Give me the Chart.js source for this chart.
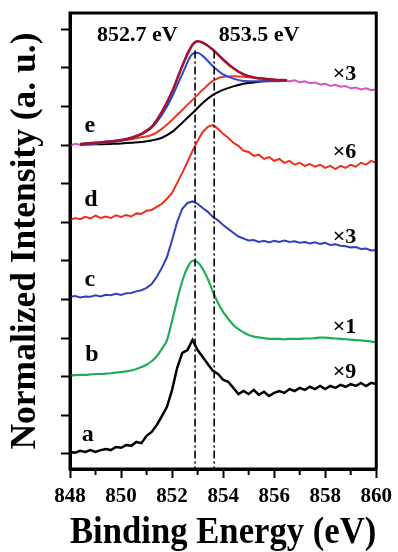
<!DOCTYPE html>
<html>
<head>
<meta charset="utf-8">
<script src="https://cdn.jsdelivr.net/npm/chart.js@4.4.0/dist/chart.umd.min.js"></script>
<style>
html, body { margin: 0; padding: 0; background: #fff; }
</style>
</head>
<body>
<canvas id="chart" width="398" height="552"></canvas>
<script>
// binding energy grid of the measured spectra (eV)
var energy = [848.0, 848.2, 848.4, 848.6, 848.8, 849.0, 849.2, 849.4, 849.6, 849.8,
	850.0, 850.2, 850.4, 850.6, 850.8, 851.0, 851.2, 851.4, 851.6, 851.8,
	852.0, 852.2, 852.4, 852.6, 852.8, 853.0, 853.2, 853.4, 853.6, 853.8,
	854.0, 854.2, 854.4, 854.6, 854.8, 855.0, 855.2, 855.4, 855.6, 855.8,
	856.0, 856.2, 856.4, 856.6, 856.8, 857.0, 857.2, 857.4, 857.6, 857.8,
	858.0, 858.2, 858.4, 858.6, 858.8, 859.0, 859.2, 859.4, 859.6, 859.8,
	860.0];

// stacked, normalized spectra (one y tick = 1 unit)
var spec_a = [0.05, 0.03, 0.08, 0.05, 0.10, 0.05, 0.10, 0.13, 0.10, 0.18,
	0.16, 0.23, 0.21, 0.31, 0.28, 0.47, 0.57, 0.75, 0.98, 1.22,
	1.66, 2.23, 2.62, 2.69, 2.95, 2.69, 2.51, 2.33, 2.15, 2.07,
	1.92, 1.87, 1.71, 1.55, 1.63, 1.55, 1.66, 1.53, 1.61, 1.50,
	1.58, 1.63, 1.58, 1.68, 1.63, 1.71, 1.66, 1.74, 1.68, 1.76,
	1.68, 1.76, 1.71, 1.79, 1.74, 1.81, 1.76, 1.84, 1.76, 1.84,
	1.81];
var spec_b = [2.03, 2.04, 2.05, 2.05, 2.06, 2.07, 2.07, 2.08, 2.09, 2.11,
	2.12, 2.14, 2.16, 2.20, 2.25, 2.31, 2.40, 2.53, 2.72, 2.95,
	3.45, 3.99, 4.48, 4.82, 5.00, 4.97, 4.79, 4.53, 4.20, 3.91,
	3.68, 3.50, 3.34, 3.23, 3.15, 3.08, 3.04, 3.02, 3.00, 2.98,
	2.98, 2.98, 2.97, 2.98, 2.98, 2.98, 2.99, 2.99, 3.00, 3.01,
	3.01, 3.00, 2.99, 2.98, 2.97, 2.96, 2.95, 2.94, 2.93, 2.91,
	2.90];
var spec_c = [4.07, 4.09, 4.05, 4.08, 4.07, 4.11, 4.08, 4.12, 4.11, 4.15,
	4.12, 4.16, 4.17, 4.21, 4.24, 4.30, 4.40, 4.59, 4.82, 5.10,
	5.54, 6.01, 6.35, 6.50, 6.54, 6.48, 6.37, 6.27, 6.14, 6.05,
	5.93, 5.83, 5.73, 5.63, 5.58, 5.53, 5.54, 5.49, 5.52, 5.48,
	5.52, 5.49, 5.53, 5.49, 5.51, 5.47, 5.49, 5.45, 5.48, 5.44,
	5.47, 5.41, 5.43, 5.39, 5.38, 5.35, 5.36, 5.31, 5.32, 5.27,
	5.28];
var spec_d = [6.06, 6.11, 6.08, 6.14, 6.10, 6.17, 6.11, 6.15, 6.11, 6.18,
	6.14, 6.19, 6.15, 6.23, 6.22, 6.30, 6.32, 6.40, 6.48, 6.61,
	6.76, 7.02, 7.28, 7.56, 7.85, 8.11, 8.34, 8.47, 8.52, 8.42,
	8.29, 8.19, 8.06, 7.98, 7.85, 7.82, 7.72, 7.75, 7.64, 7.69,
	7.59, 7.64, 7.54, 7.59, 7.49, 7.54, 7.46, 7.51, 7.44, 7.49,
	7.41, 7.46, 7.38, 7.46, 7.41, 7.49, 7.44, 7.54, 7.49, 7.59,
	7.54];
var spec_e = [7.98, 8.03, 8.01, 8.04, 8.02, 8.07, 8.04, 8.10, 8.08, 8.12,
	8.11, 8.16, 8.17, 8.24, 8.28, 8.39, 8.47, 8.65, 8.86, 9.12,
	9.38, 9.72, 10.05, 10.39, 10.60, 10.70, 10.65, 10.57, 10.47, 10.34,
	10.23, 10.10, 10.00, 9.90, 9.84, 9.78, 9.75, 9.72, 9.73, 9.69,
	9.70, 9.66, 9.69, 9.65, 9.68, 9.62, 9.65, 9.60, 9.62, 9.57,
	9.59, 9.53, 9.56, 9.51, 9.53, 9.47, 9.49, 9.44, 9.47, 9.42,
	9.44];

// peak fit of spectrum e
var fitEnergy = [848.4, 849.0, 849.6, 850.0, 850.4, 850.8, 851.2, 851.6, 852.0, 852.4,
	852.8, 853.0, 853.2, 853.6, 854.0, 854.4, 854.8, 855.2, 855.6, 856.0, 856.5];
var fit_sum = [8.03, 8.06, 8.10, 8.13, 8.19, 8.29, 8.47, 8.86, 9.38, 10.05,
	10.60, 10.69, 10.65, 10.47, 10.21, 9.99, 9.83, 9.75, 9.72, 9.69, 9.68];
var fit_8527 = [8.02, 8.04, 8.08, 8.12, 8.17, 8.28, 8.45, 8.78, 9.25, 9.84,
	10.36, 10.39, 10.31, 10.04, 9.83, 9.72, 9.66, 9.65, 9.65, 9.65, 9.66];
var fit_8535 = [8.02, 8.04, 8.08, 8.11, 8.15, 8.20, 8.26, 8.42, 8.65, 8.91,
	9.17, 9.30, 9.43, 9.66, 9.77, 9.78, 9.77, 9.74, 9.72, 9.69, 9.68];
var fit_bg = [8.01, 8.02, 8.03, 8.04, 8.06, 8.08, 8.12, 8.19, 8.34, 8.58,
	8.83, 8.96, 9.09, 9.30, 9.43, 9.52, 9.59, 9.62, 9.65, 9.66, 9.68];

// dash-dot guide lines
var guideEnergy = [852.9, 853.65];
var guideSpan = [10.45, -0.39];

var yTicks = [0, 1, 2, 3, 4, 5, 6, 7, 8, 9, 10, 11];
var minorTicks = [849, 851, 853, 855, 857, 859];
var curveNames = ['a', 'b', 'c', 'd', 'e'];
var factors = ['\u00d79', '\u00d71', '\u00d73', '\u00d76', '\u00d73'];
var peakNotes = ['852.7 eV', '853.5 eV'];

// where the texts sit, in data units
var nameSpot = [[848.7, 0.49], [848.86, 2.56], [848.78, 4.51], [848.82, 6.58], [848.78, 8.50]];
var factorSpot = [[858.76, 2.12], [858.76, 3.29], [858.76, 5.62], [858.76, 7.82], [858.76, 9.82]];
var noteSpot = [[850.64, 10.83], [855.41, 10.83]];

function pts(xs, ys) {
	return xs.map(function (x, i) { return {x: x, y: ys[i]}; });
}

function line(label, xs, ys, color, width, smooth) {
	return {
		label: label,
		data: pts(xs, ys),
		borderColor: color,
		borderWidth: width,
		pointRadius: 0,
		fill: false,
		tension: 0,
		cubicInterpolationMode: smooth ? 'monotone' : 'default'
	};
}

var SERIF = "'Liberation Serif', 'DejaVu Serif', serif";
Chart.defaults.font.family = SERIF;
Chart.defaults.color = '#000';

var datasets = [];
guideEnergy.forEach(function (e, i) {
	var g = line('guide' + i, [e, e], guideSpan, '#000', 1.6, false);
	g.borderDash = [8, 3, 2, 3];
	datasets.push(g);
});
datasets.push(line('fit sum', fitEnergy, fit_sum, 'rgb(160, 20, 45)', 2.5, true));
datasets.push(line('852.7', fitEnergy, fit_8527, 'rgb(45, 70, 210)', 2, true));
datasets.push(line('853.5', fitEnergy, fit_8535, 'rgb(238, 55, 35)', 2, true));
datasets.push(line('background', fitEnergy, fit_bg, '#000', 2, true));
datasets.push(line('e', energy, spec_e, 'rgb(214, 84, 196)', 2, false));
datasets.push(line('d', energy, spec_d, 'rgb(240, 45, 30)', 2, false));
datasets.push(line('c', energy, spec_c, 'rgb(50, 65, 185)', 2, false));
datasets.push(line('b', energy, spec_b, 'rgb(30, 175, 85)', 2.2, true));
datasets.push(line('a', energy, spec_a, '#000', 2.5, false));

var decorPlugin = {
	id: 'decor',
	afterDraw: function (chart) {
		var ctx = chart.ctx;
		var area = chart.chartArea;
		var xs = chart.scales.x;
		var ys = chart.scales.y;
		ctx.save();
		ctx.strokeStyle = '#000';
		ctx.lineWidth = 3;
		ctx.strokeRect(area.left, area.top, area.right - area.left, area.bottom - area.top);

		/* minor ticks */
		ctx.lineWidth = 2;
		minorTicks.forEach(function (v) {
			var px = xs.getPixelForValue(v);
			ctx.beginPath();
			ctx.moveTo(px, area.bottom);
			ctx.lineTo(px, area.bottom + 6);
			ctx.stroke();
		});

		ctx.fillStyle = '#000';
		ctx.textAlign = 'center';
		ctx.textBaseline = 'middle';

		ctx.font = 'bold 24px ' + SERIF;
		curveNames.forEach(function (t, i) {
			ctx.fillText(t, xs.getPixelForValue(nameSpot[i][0]), ys.getPixelForValue(nameSpot[i][1]));
		});

		ctx.font = 'bold 22px ' + SERIF;
		factors.forEach(function (t, i) {
			ctx.fillText(t, xs.getPixelForValue(factorSpot[i][0]), ys.getPixelForValue(factorSpot[i][1]));
		});

		ctx.font = 'bold 22px ' + SERIF;
		peakNotes.forEach(function (t, i) {
			ctx.fillText(t, xs.getPixelForValue(noteSpot[i][0]), ys.getPixelForValue(noteSpot[i][1]));
		});
		ctx.restore();
	}
};

new Chart(document.getElementById('chart').getContext('2d'), {
	type: 'line',
	data: {datasets: datasets},
	plugins: [decorPlugin],
	options: {
		responsive: false,
		animation: false,
		layout: {padding: {left: 0, right: 21, top: 13, bottom: 0}},
		plugins: {
			legend: {display: false},
			tooltip: {enabled: false}
		},
		scales: {
			x: {
				type: 'linear',
				min: 848,
				max: 860,
				afterFit: function (s) { s.height = 83; },
				ticks: {
					stepSize: 2,
					maxRotation: 0,
					padding: 6,
					color: '#000',
					font: {size: 21, weight: 'bold'}
				},
				grid: {drawOnChartArea: false, tickLength: 9, tickWidth: 2, tickColor: '#000'},
				border: {color: '#000', width: 3},
				title: {
					display: true,
					text: 'Binding Energy (eV)',
					color: '#000',
					font: {size: 37, weight: 'bold', lineHeight: 1},
					padding: {top: 0, bottom: 0}
				}
			},
			y: {
				type: 'linear',
				min: -0.39,
				max: 11.42,
				afterBuildTicks: function (s) {
					s.ticks = yTicks.map(function (v) { return {value: v}; });
				},
				afterFit: function (s) { s.width = 70; },
				ticks: {display: false},
				grid: {drawOnChartArea: false, tickLength: 9, tickWidth: 2, tickColor: '#000'},
				border: {color: '#000', width: 3},
				title: {
					display: true,
					text: 'Normalized Intensity (a. u.)',
					color: '#000',
					font: {size: 35.5, weight: 'bold', lineHeight: 1},
					padding: {top: 8, bottom: 0}
				}
			}
		}
	}
});
</script>
</body>
</html>
